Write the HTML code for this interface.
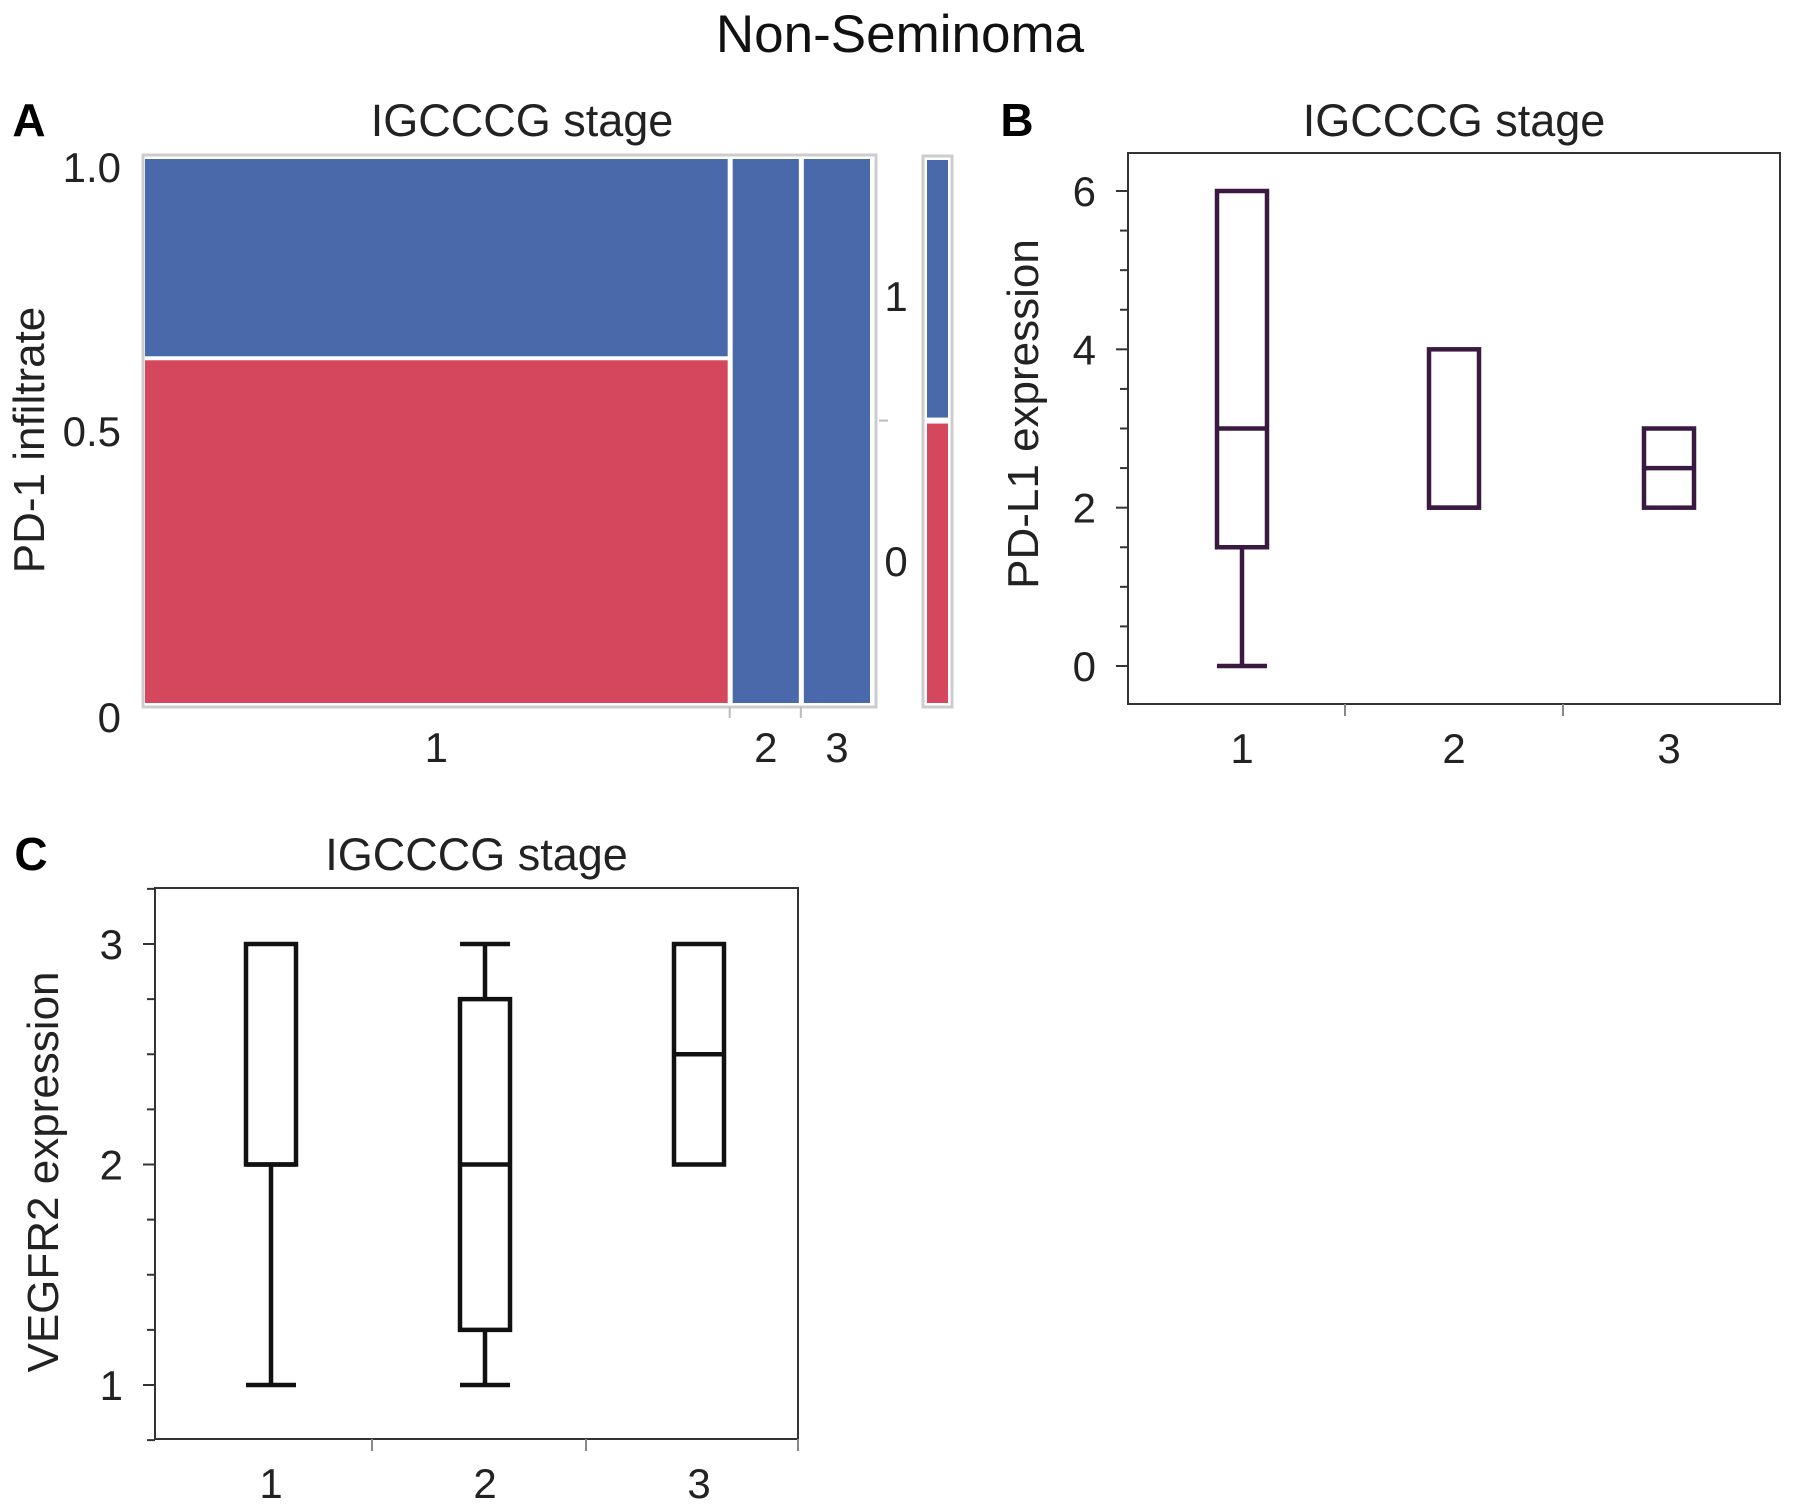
<!DOCTYPE html>
<html><head><meta charset="utf-8"><style>
html,body{margin:0;padding:0;background:#fff}
svg{display:block;font-family:"Liberation Sans",Arial,sans-serif}
</style></head><body>
<svg id="fig" width="1795" height="1505" viewBox="0 0 1795 1505">
<text x="900" y="52" font-size="53" text-anchor="middle" fill="#111">Non-Seminoma</text>
<g id="pa"></g>
<g id="pb"></g>
<g id="pc"></g>
</svg>
<script>
const mosaicCats=["1","2","3"];
const mosaicWidths=[0.797,0.097,0.097];
const mosaicRed=[0.63,0,0];
const marginRed=[0.52];
const pdl1Cats=["1","2","3"];
const pdl1Min=[0,2,2];
const pdl1Q1=[1.5,2,2];
const pdl1Med=[3,2,2.5];
const pdl1Q3=[6,4,3];
const pdl1Max=[6,4,3];
const pdl1Ticks=[0,2,4,6];
const vegCats=["1","2","3"];
const vegMin=[1,1,2];
const vegQ1=[2,1.25,2];
const vegMed=[2,2,2.5];
const vegQ3=[3,2.75,3];
const vegMax=[3,3,3];
const vegTicks=[1,2,3];
const mosaicTicks=[0,0.5,1.0];
const mosaicTickLabels=["0","0.5","1.0"];

const NS="http://www.w3.org/2000/svg";
function mk(p,t,a,txt){const e=document.createElementNS(NS,t);for(const k in a)e.setAttribute(k,a[k]);if(txt!==undefined)e.textContent=txt;p.appendChild(e);return e;}

const A=document.getElementById('pa');
let e;
e=mk(A,'text',{x:29,y:136,'font-size':46,'font-weight':'bold','text-anchor':'middle'},'A');


e=mk(A,'text',{x:522,y:136,'font-size':45,'text-anchor':'middle',fill:'#222'},'IGCCCG stage');


const aL=145,aR=872,aT=159,aB=703;
const ay=v=>aB-(aB-aT)*v;
e=mk(A,'rect',{x:143,y:155,width:733,height:552,fill:'none',stroke:'#ccc','stroke-width':3});


let cx=aL;const totW=aR-aL;
mosaicCats.forEach((c,i)=>{
  const w=totW*mosaicWidths[i]/mosaicWidths.reduce((a,b)=>a+b,0);
  const x0=cx+(i?3:0),x1=cx+w-2;
  const rH=(aB-aT)*mosaicRed[i];
  if(rH>0){e=mk(A,'rect',{x:x0,y:aB-rH,width:x1-x0,height:rH,fill:'#d4475c'});
  
  }
  const bB=aB-rH-(rH>0?4:0);
  e=mk(A,'rect',{x:x0,y:aT,width:x1-x0,height:bB-aT,fill:'#4a69ab'});
  
  
  e=mk(A,'text',{x:(x0+x1)/2,y:762,'font-size':42,'text-anchor':'middle',fill:'#222'},c);
  
  
  if(i<mosaicCats.length-1){e=mk(A,'line',{x1:cx+w,x2:cx+w,y1:707,y2:718,stroke:'#bbb','stroke-width':2});
  
  }
  cx+=w;
});
mosaicTicks.forEach((t,i)=>{
  e=mk(A,'text',{x:121,y:ay(t)+15+(t===1?8:t===0?14:0),'font-size':42,'text-anchor':'end',fill:'#222'},mosaicTickLabels[i]);
  
  
});
e=mk(A,'text',{x:0,y:0,'font-size':44,'text-anchor':'middle',fill:'#222',transform:'translate(44,440) rotate(-90)'},'PD-1 infiltrate');


const mT=158,mB=705;
e=mk(A,'rect',{x:923,y:156,width:29,height:551,fill:'none',stroke:'#ccc','stroke-width':3});


const mSplit=mB-(mB-mT)*marginRed[0];
e=mk(A,'rect',{x:927,y:mSplit+3,width:21,height:mB-mSplit-5,fill:'#d4475c'});


e=mk(A,'rect',{x:927,y:mT+2,width:21,height:mSplit-mT-5,fill:'#4a69ab'});


e=mk(A,'line',{x1:879,x2:888,y1:mSplit,y2:mSplit,stroke:'#bbb','stroke-width':2});


e=mk(A,'text',{x:896,y:311,'font-size':42,'text-anchor':'middle',fill:'#222'},'1');


e=mk(A,'text',{x:896,y:576,'font-size':42,'text-anchor':'middle',fill:'#222'},'0');



function boxPanel(G,o){
  const {L,R,T,B,y,cats,mn,q1,md,q3,mx,ticks,minor,color,bw,xs,lbl,title,ytitle,ytx,yty,tickEnds,p}=o;
  e=mk(G,'text',{x:lbl[0],y:lbl[1],'font-size':46,'font-weight':'bold','text-anchor':'middle'},p.toUpperCase());
  
  
  e=mk(G,'text',{x:(L+R)/2,y:title,'font-size':45,'text-anchor':'middle',fill:'#222'},'IGCCCG stage');
  
  
  e=mk(G,'rect',{x:L,y:T,width:R-L,height:B-T,fill:'none',stroke:'#333','stroke-width':2});
  
  
  minor.forEach(v=>{e=mk(G,'line',{x1:L-8,x2:L,y1:y(v),y2:y(v),stroke:'#333','stroke-width':2});
  
  });
  ticks.forEach(v=>{
    e=mk(G,'line',{x1:L-12,x2:L,y1:y(v),y2:y(v),stroke:'#333','stroke-width':2});
    
    
    e=mk(G,'text',{x:L-32,y:y(v)+15,'font-size':42,'text-anchor':'end',fill:'#222'},String(v));
    
    
  });
  tickEnds.forEach(x=>{e=mk(G,'line',{x1:x,x2:x,y1:B,y2:B+12,stroke:'#888','stroke-width':2});
  
  });
  cats.forEach((c,i)=>{
    const x=xs[i];
    const g=mk(G,'g',{stroke:color,'stroke-width':4.5,fill:'none'});
    
    
    if(mn[i]<q1[i]){mk(g,'line',{x1:x,x2:x,y1:y(mn[i]),y2:y(q1[i])});mk(g,'line',{x1:x-bw/2,x2:x+bw/2,y1:y(mn[i]),y2:y(mn[i])});}
    if(mx[i]>q3[i]){mk(g,'line',{x1:x,x2:x,y1:y(mx[i]),y2:y(q3[i])});mk(g,'line',{x1:x-bw/2,x2:x+bw/2,y1:y(mx[i]),y2:y(mx[i])});}
    mk(g,'rect',{x:x-bw/2,y:y(q3[i]),width:bw,height:y(q1[i])-y(q3[i]),fill:'#fff'});
    mk(g,'line',{x1:x-bw/2,x2:x+bw/2,y1:y(md[i]),y2:y(md[i])});
    e=mk(G,'text',{x:x,y:B+59,'font-size':42,'text-anchor':'middle',fill:'#222'},c);
    
    
  });
  e=mk(G,'text',{x:0,y:0,'font-size':44,'text-anchor':'middle',fill:'#222',transform:'translate('+ytx+','+yty+') rotate(-90)'},ytitle);
  
  
}
const bY=v=>666-(666-191)*v/6;
boxPanel(document.getElementById('pb'),{p:'b',L:1128,R:1780,T:153,B:704,y:bY,cats:pdl1Cats,mn:pdl1Min,q1:pdl1Q1,md:pdl1Med,q3:pdl1Q3,mx:pdl1Max,
 ticks:pdl1Ticks,minor:[0.5,1,1.5,2.5,3,3.5,4.5,5,5.5],color:'#3a1a40',bw:50,xs:[1242,1454,1669],lbl:[1017,136],title:136,
 ytitle:'PD-L1 expression',ytx:1038,yty:414,tickEnds:[1345,1563]});
const cY=v=>1385-(1385-944)*(v-1)/2;
boxPanel(document.getElementById('pc'),{p:'c',L:155,R:798,T:888,B:1439,y:cY,cats:vegCats,mn:vegMin,q1:vegQ1,md:vegMed,q3:vegQ3,mx:vegMax,
 ticks:vegTicks,minor:[0.75,1.25,1.5,1.75,2.25,2.5,2.75,3.25],color:'#111',bw:50,xs:[271,485,699],lbl:[31,870],title:870,
 ytitle:'VEGFR2 expression',ytx:58,yty:1172,tickEnds:[372,586,798]});
</script>
</body></html>
